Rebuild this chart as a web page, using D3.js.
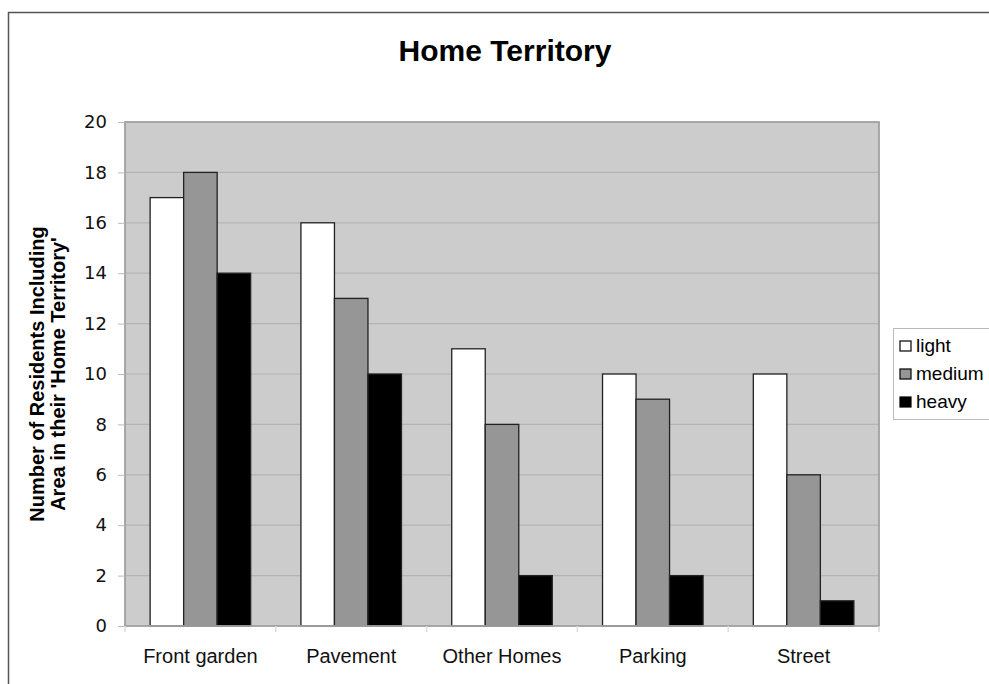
<!DOCTYPE html>
<html>
<head>
<meta charset="utf-8">
<script src="https://cdn.jsdelivr.net/npm/d3@7"></script>
<style>
    body { margin: 0; background: #fff; }
    svg { display: block; }
    .tick-y { font-family: "DejaVu Sans", sans-serif; font-size: 18px; fill: #111; }
    .tick-x { font-family: "Liberation Sans", Arial, sans-serif; font-size: 20px; fill: #111; }
</style>
</head>
<body>
<svg id="chart" width="989" height="684"></svg>
<script>
// chart data
var categories = ["Front garden", "Pavement", "Other Homes", "Parking", "Street"];
var series = ["light", "medium", "heavy"];
var light = [17, 16, 11, 10, 10];
var medium = [18, 13, 8, 9, 6];
var heavy = [14, 10, 2, 2, 1];
var yTicks = [0, 2, 4, 6, 8, 10, 12, 14, 16, 18, 20];

var colors = {light: "#ffffff", medium: "#969696", heavy: "#000000"};
var values = {light: light, medium: medium, heavy: heavy};

var svg = d3.select("#chart");

// plot area
var plotLeft = 125, plotRight = 879, plotTop = 122, plotBottom = 626;

// outer frame (runs off the right and bottom of the page)
svg.append("rect")
    .attr("x", 8.5).attr("y", 12.5)
    .attr("width", 1000).attr("height", 700)
    .attr("fill", "none")
    .attr("stroke", "#555")
    .attr("stroke-width", 1.5);

svg.append("text")
    .attr("x", 505).attr("y", 61)
    .attr("text-anchor", "middle")
    .style("font-family", "'Liberation Sans', Arial, sans-serif")
    .style("font-weight", "bold")
    .style("font-size", "30px")
    .text("Home Territory");

var x0 = d3.scaleBand()
    .domain(categories)
    .range([plotLeft, plotRight])
    .paddingInner(1 / 3)
    .paddingOuter(1 / 6);

var x1 = d3.scaleBand()
    .domain(series)
    .range([0, x0.bandwidth()]);

var y = d3.scaleLinear()
    .domain([0, 20])
    .range([plotBottom, plotTop]);

// plot background
svg.append("rect")
    .attr("x", plotLeft).attr("y", plotTop)
    .attr("width", plotRight - plotLeft).attr("height", plotBottom - plotTop)
    .attr("fill", "#cccccc");

// gridlines
svg.append("g")
    .selectAll("line")
    .data(yTicks.filter(function(d) { return d > 0 && d < 20; }))
    .enter().append("line")
    .attr("x1", plotLeft).attr("x2", plotRight)
    .attr("y1", function(d) { return y(d); })
    .attr("y2", function(d) { return y(d); })
    .attr("stroke", "#b4b4b4")
    .attr("stroke-width", 1.2);

// bars
var groups = svg.append("g")
    .selectAll("g")
    .data(categories)
    .enter().append("g")
    .attr("transform", function(d) { return "translate(" + x0(d) + ",0)"; });

groups.selectAll("rect")
    .data(function(d, i) {
        return series.map(function(s) { return {key: s, value: values[s][i]}; });
    })
    .enter().append("rect")
    .attr("x", function(d) { return x1(d.key); })
    .attr("y", function(d) { return y(d.value); })
    .attr("width", x1.bandwidth())
    .attr("height", function(d) { return y(0) - y(d.value); })
    .attr("fill", function(d) { return colors[d.key]; })
    .attr("stroke", "#222")
    .attr("stroke-width", 1.3);

// plot border
svg.append("rect")
    .attr("x", plotLeft).attr("y", plotTop)
    .attr("width", plotRight - plotLeft).attr("height", plotBottom - plotTop)
    .attr("fill", "none")
    .attr("stroke", "#a0a0a0")
    .attr("stroke-width", 1.8);

// y axis
var yAxis = d3.axisLeft(y)
    .tickValues(yTicks)
    .tickSize(7)
    .tickPadding(11);

var gy = svg.append("g")
    .attr("transform", "translate(" + plotLeft + ",0)")
    .call(yAxis);
gy.select(".domain").remove();
gy.selectAll(".tick line").attr("stroke", "#bbb");
gy.selectAll(".tick text").attr("class", "tick-y").attr("fill", null);

// x axis: ticks at the category boundaries
var boundaries = categories.map(function(d) { return x0(d) - x0.step() * (1 / 6); });
boundaries.push(plotRight);
svg.append("g")
    .selectAll("line")
    .data(boundaries)
    .enter().append("line")
    .attr("x1", function(d) { return d; }).attr("x2", function(d) { return d; })
    .attr("y1", plotBottom).attr("y2", plotBottom + 6)
    .attr("stroke", "#ddd")
    .attr("stroke-width", 1.5);

svg.append("g")
    .selectAll("text")
    .data(categories)
    .enter().append("text")
    .attr("class", "tick-x")
    .attr("x", function(d) { return x0(d) + x0.bandwidth() / 2; })
    .attr("y", 663)
    .attr("text-anchor", "middle")
    .text(function(d) { return d; });

// y axis title
var yTitle = svg.append("text")
    .attr("transform", "translate(44," + ((plotTop + plotBottom) / 2) + ") rotate(-90)")
    .attr("text-anchor", "middle")
    .style("font-family", "'Liberation Sans', Arial, sans-serif")
    .style("font-weight", "bold")
    .style("font-size", "20px");
yTitle.append("tspan").attr("x", 0).attr("y", 0).text("Number of Residents Including");
yTitle.append("tspan").attr("x", 0).attr("y", 21).text("Area in their 'Home Territory'");

// legend
var legend = svg.append("g").attr("transform", "translate(893,328)");
legend.append("rect")
    .attr("x", 0.5).attr("y", 0.5)
    .attr("width", 96).attr("height", 91)
    .attr("fill", "#fff")
    .attr("stroke", "#bbb");

var items = legend.selectAll("g.item")
    .data(series)
    .enter().append("g")
    .attr("class", "item")
    .attr("transform", function(d, i) { return "translate(0," + (i * 28) + ")"; });

items.append("rect")
    .attr("x", 7).attr("y", 13)
    .attr("width", 11).attr("height", 10)
    .attr("fill", function(d) { return colors[d]; })
    .attr("stroke", "#000")
    .attr("stroke-width", 1.2);

items.append("text")
    .attr("x", 23).attr("y", 24)
    .style("font-family", "'Liberation Sans', Arial, sans-serif")
    .style("font-size", "19px")
    .text(function(d) { return d; });
</script>
</body>
</html>
